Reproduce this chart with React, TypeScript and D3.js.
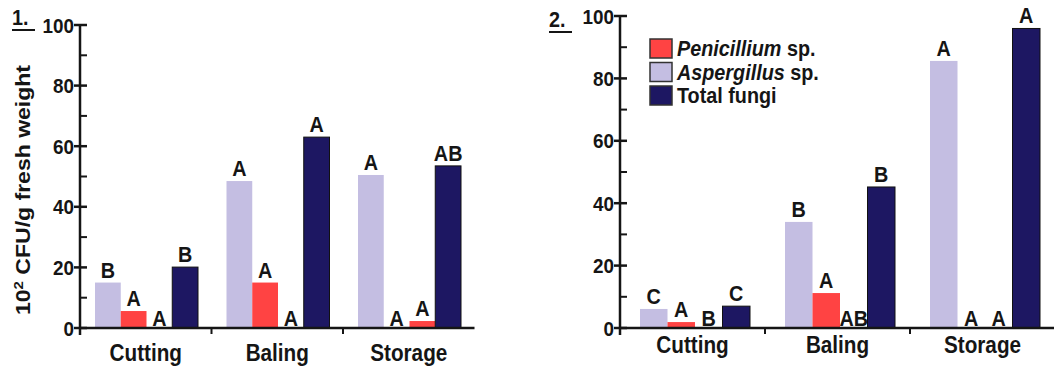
import React from 'react'
import * as d3 from 'd3'

const groups = ['Cutting', 'Baling', 'Storage']
const seriesKeys = ['Aspergillus', 'Penicillium', 'Other', 'Total']
const COLORS = ['#c4bee2', '#ff4343', '#ff4343', '#1d1762']

// panel 1 values (10^2 CFU/g fresh weight)
const p1Aspergillus = [15, 48.5, 50.5]
const p1Penicillium = [5.6, 15, 0]
const p1Other = [0, 0, 2.3]
const p1Total = [20.1, 63, 53.5]
const p1Letters = [
  ['B', 'A', 'A'],
  ['A', 'A', 'A'],
  ['A', 'A', 'A'],
  ['B', 'A', 'AB']
]

// panel 2 values
const p2Aspergillus = [6.1, 34, 85.6]
const p2Penicillium = [1.9, 11.2, 0]
const p2Other = [0, 0, 0]
const p2Total = [7, 45.2, 96]
const p2Letters = [
  ['C', 'B', 'A'],
  ['A', 'A', 'A'],
  ['B', 'AB', 'A'],
  ['C', 'B', 'A']
]

const yTicks = [0, 20, 40, 60, 80, 100]
const yMinor = [10, 30, 50, 70, 90]
const legendItems = [
  { name: 'Penicillium', suffix: ' sp.', italic: true, color: '#ff4343' },
  { name: 'Aspergillus', suffix: ' sp.', italic: true, color: '#c4bee2' },
  { name: 'Total fungi', suffix: '', italic: false, color: '#1d1762' }
]

const FONT = 'Liberation Sans, Arial, sans-serif'
const INK = '#151515'

const Txt = ({ x, y, size = 21, anchor = 'middle', dy, children }: any) => (
  <text
    transform={`translate(${x},${y}) scale(0.9,1)`}
    textAnchor={anchor}
    dy={dy}
    fontFamily={FONT}
    fontWeight="bold"
    fontSize={size}
    fill={INK}
  >
    {children}
  </text>
)

const Panel = ({ axisX, yZero, yTop, groupW, slotRange, values, letters, label, labelX, labelY, catY }: any) => {
  const y = d3.scaleLinear().domain([0, 100]).range([yZero, yTop])
  const x0 = d3.scaleBand().domain(groups).range([axisX, axisX + groupW * groups.length])
  const x1 = d3.scaleBand().domain(seriesKeys).range(slotRange)
  const axisEnd = axisX + groupW * groups.length

  return (
    <g>
      {/* bars */}
      {groups.map((g, gi) => (
        <g key={g} transform={`translate(${x0(g)},0)`}>
          {seriesKeys.map((s, si) => {
            const v = values[si][gi]
            const bx = x1(s) as number
            const bw = x1.bandwidth()
            return (
              <g key={s}>
                {v > 0 && (
                  <rect
                    x={bx}
                    y={y(v)}
                    width={bw}
                    height={yZero - y(v)}
                    fill={COLORS[si]}
                    stroke={si === 3 ? '#111' : 'none'}
                    strokeWidth={1}
                  />
                )}
                <Txt x={bx + bw / 2} y={v > 0 ? y(v) - 5 : yZero - 2} size={22}>
                  {letters[si][gi]}
                </Txt>
              </g>
            )
          })}
        </g>
      ))}

      {/* x axis */}
      <line x1={axisX} x2={axisEnd} y1={yZero} y2={yZero} stroke={INK} strokeWidth={2.5} />
      {groups.slice(1).map(g => (
        <line key={g} x1={x0(g)} x2={x0(g)} y1={yZero} y2={yZero + 6} stroke={INK} strokeWidth={2} />
      ))}
      {groups.map(g => (
        <Txt key={g} x={(x0(g) as number) + groupW / 2} y={catY} size={23}>
          {g}
        </Txt>
      ))}

      {/* y axis */}
      <line x1={axisX} x2={axisX} y1={yTop - 1} y2={yZero + 7} stroke={INK} strokeWidth={2.5} />
      {yTicks.map(t => (
        <g key={t}>
          <line x1={axisX - 6} x2={axisX + 7} y1={y(t)} y2={y(t)} stroke={INK} strokeWidth={2.5} />
          <Txt x={axisX - 6} y={y(t)} anchor="end" dy="0.36em" size={21}>
            {t}
          </Txt>
        </g>
      ))}
      {yMinor.map(t => (
        <line key={t} x1={axisX} x2={axisX + 7} y1={y(t)} y2={y(t)} stroke={INK} strokeWidth={2} />
      ))}

      {/* panel number */}
      <Txt x={labelX} y={labelY} anchor="start" size={22}>
        {label}
      </Txt>
      <line x1={labelX} x2={labelX + 23} y1={labelY + 5} y2={labelY + 5} stroke={INK} strokeWidth={2} />
    </g>
  )
}

const App = () => {
  return (
    <svg
      width={1054}
      height={367}
      style={{ position: 'absolute', left: 0, top: 0, background: '#fff' }}
    >
      <rect width={1054} height={367} fill="#fff" />
      <Panel
        axisX={80}
        yZero={328}
        yTop={25}
        groupW={131.5}
        slotRange={[15, 118]}
        values={[p1Aspergillus, p1Penicillium, p1Other, p1Total]}
        letters={p1Letters}
        label="1."
        labelX={12}
        labelY={25}
        catY={361}
      />
      <Panel
        axisX={620}
        yZero={328}
        yTop={16}
        groupW={145}
        slotRange={[20, 130]}
        values={[p2Aspergillus, p2Penicillium, p2Other, p2Total]}
        letters={p2Letters}
        label="2."
        labelX={549}
        labelY={27}
        catY={353}
      />

      {/* y title */}
      <text
        transform="translate(30,190) rotate(-90)"
        textAnchor="middle"
        fontFamily={FONT}
        fontWeight="bold"
        fontSize={20}
        fill={INK}
        textLength={250}
        lengthAdjust="spacingAndGlyphs"
      >
        10<tspan dy="-7" fontSize={13}>2</tspan>
        <tspan dy="7"> CFU/g fresh weight</tspan>
      </text>

      {/* legend */}
      {legendItems.map((d, i) => (
        <g key={d.name} transform={`translate(650,${39 + i * 23.5})`}>
          <rect x={0} y={0} width={22} height={19} fill={d.color} stroke="#333" strokeWidth={1.5} />
          <text
            transform="translate(27,17) scale(0.9,1)"
            fontFamily={FONT}
            fontWeight="bold"
            fontSize={22}
            fill={INK}
          >
            <tspan fontStyle={d.italic ? 'italic' : 'normal'}>{d.name}</tspan>
            {d.suffix}
          </text>
        </g>
      ))}
    </svg>
  )
}

export default App
